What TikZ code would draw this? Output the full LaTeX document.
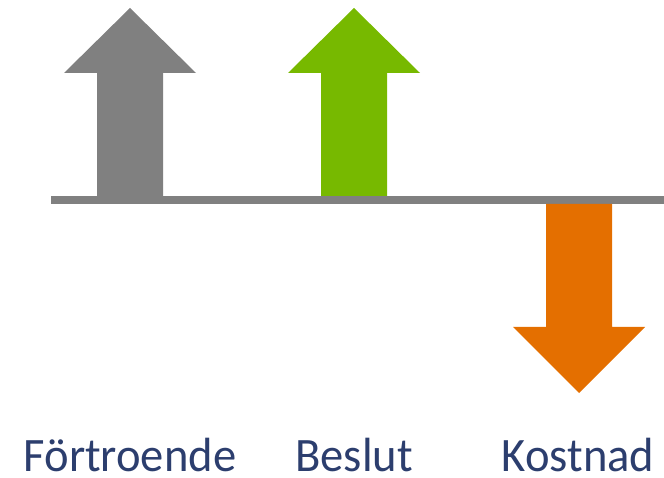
\documentclass[tikz,border=0pt]{standalone}
\usepackage{fontspec}
\setmainfont{Carlito}
\definecolor{agray}{HTML}{808080}
\definecolor{agreen}{HTML}{77B900}
\definecolor{aorange}{HTML}{E46F00}
\definecolor{atext}{HTML}{2C3E6E}
\begin{document}
\begin{tikzpicture}[x=1pt,y=-1pt,
  lbl/.style={text=atext,font=\fontsize{48}{48}\selectfont,anchor=base,inner sep=0pt,text depth=0pt,xscale=0.97}]
\useasboundingbox (0,0) rectangle (664,478);
% baseline
\fill[agray] (51,196) rectangle (664,204);
% gray up arrow
\fill[agray] (97,196) -- (97,73) -- (64,73) -- (130,8) -- (196,73) -- (163,73) -- (163,196) -- cycle;
% green up arrow
\fill[agreen] (321,196) -- (321,73) -- (288,73) -- (354,8) -- (420,73) -- (387,73) -- (387,196) -- cycle;
% orange down arrow
\fill[aorange] (546,204) -- (546,327) -- (513,327) -- (579,393) -- (645,327) -- (612,327) -- (612,204) -- cycle;
\node[lbl] (t1) at (130,471.5) {Förtroende};
\node[lbl] (t2) at (354,471.5) {Beslut};
\node[lbl] (t3) at (578,471.5) {Kostnad};
\end{tikzpicture}
\end{document}
